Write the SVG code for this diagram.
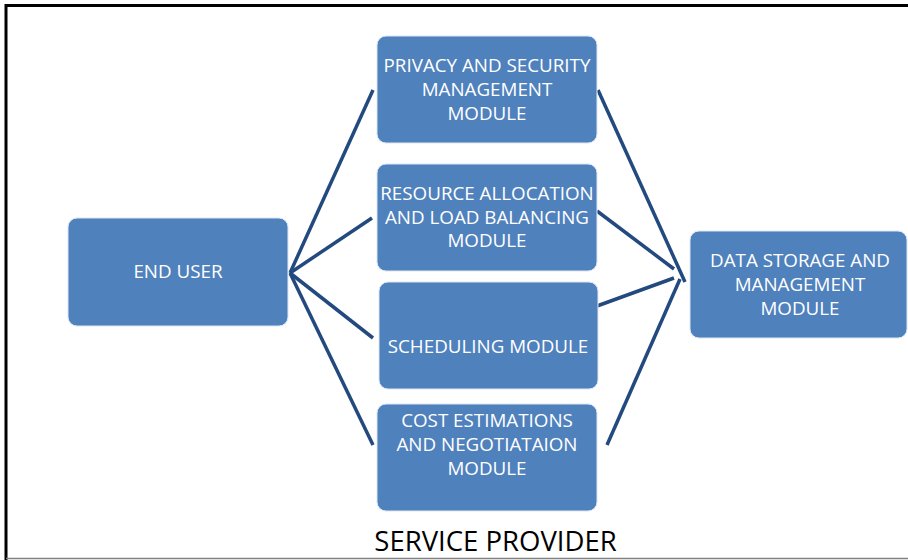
<svg xmlns="http://www.w3.org/2000/svg" width="908" height="560" viewBox="0 0 908 560">
<style>
.box{fill:#4F81BD;stroke:#DCE6F2;stroke-width:1}
.lbl{font-family:"Open Sans","Liberation Sans",sans-serif;font-size:18.8px;fill:#FFFFFF;text-anchor:middle}
.conn line{stroke:#234A7E;stroke-width:3.5;stroke-linecap:butt}
.title{font-family:"Open Sans","Liberation Sans",sans-serif;font-size:27.5px;fill:#000000;text-anchor:middle}
</style>
<rect x="0" y="0" width="908" height="560" fill="#FFFFFF"/>
<g id="frame">
<path d="M6 560 V5.5 H912" fill="none" stroke="#000000" stroke-width="3"/>
<line x1="6" y1="558.5" x2="908" y2="558.5" stroke="#808080" stroke-width="1.5"/>
</g>
<g id="connectors" class="conn">
<line x1="290" y1="273" x2="373" y2="90"/>
<line x1="290" y1="273" x2="372" y2="218"/>
<line x1="290" y1="273" x2="373" y2="338"/>
<line x1="290" y1="273" x2="373" y2="445"/>
<line x1="598" y1="90" x2="685" y2="282"/>
<line x1="597" y1="211" x2="674" y2="269"/>
<line x1="597" y1="306" x2="674" y2="278"/>
<line x1="607" y1="445" x2="680" y2="279"/>
</g>
<g id="end-user">
<rect class="box" x="68" y="218" width="220" height="108" rx="9"/>
<text class="lbl" x="178" y="278">END USER</text>
</g>
<g id="privacy">
<rect class="box" x="377" y="36" width="220" height="107" rx="9"/>
<text class="lbl" x="487" y="71.5">PRIVACY AND SECURITY</text>
<text class="lbl" x="487" y="95.5">MANAGEMENT</text>
<text class="lbl" x="487" y="119.5">MODULE</text>
</g>
<g id="resource">
<rect class="box" x="377" y="164" width="220" height="107" rx="9"/>
<text class="lbl" x="487" y="200">RESOURCE ALLOCATION</text>
<text class="lbl" x="487" y="223.5">AND LOAD BALANCING</text>
<text class="lbl" x="487" y="247">MODULE</text>
</g>
<g id="scheduling">
<rect class="box" x="379" y="282" width="219" height="107" rx="9"/>
<text class="lbl" x="488" y="353">SCHEDULING MODULE</text>
</g>
<g id="cost">
<rect class="box" x="377" y="404" width="220" height="107" rx="9"/>
<text class="lbl" x="487" y="427">COST ESTIMATIONS</text>
<text class="lbl" x="487" y="451">AND NEGOTIATAION</text>
<text class="lbl" x="487" y="475">MODULE</text>
</g>
<g id="data-storage">
<rect class="box" x="690" y="231" width="217" height="107" rx="9"/>
<text class="lbl" x="800" y="266.5">DATA STORAGE AND</text>
<text class="lbl" x="800" y="290.5">MANAGEMENT</text>
<text class="lbl" x="800" y="314.5">MODULE</text>
</g>
<g id="service-provider">
<text class="title" x="495.5" y="551">SERVICE PROVIDER</text>
</g>
</svg>
